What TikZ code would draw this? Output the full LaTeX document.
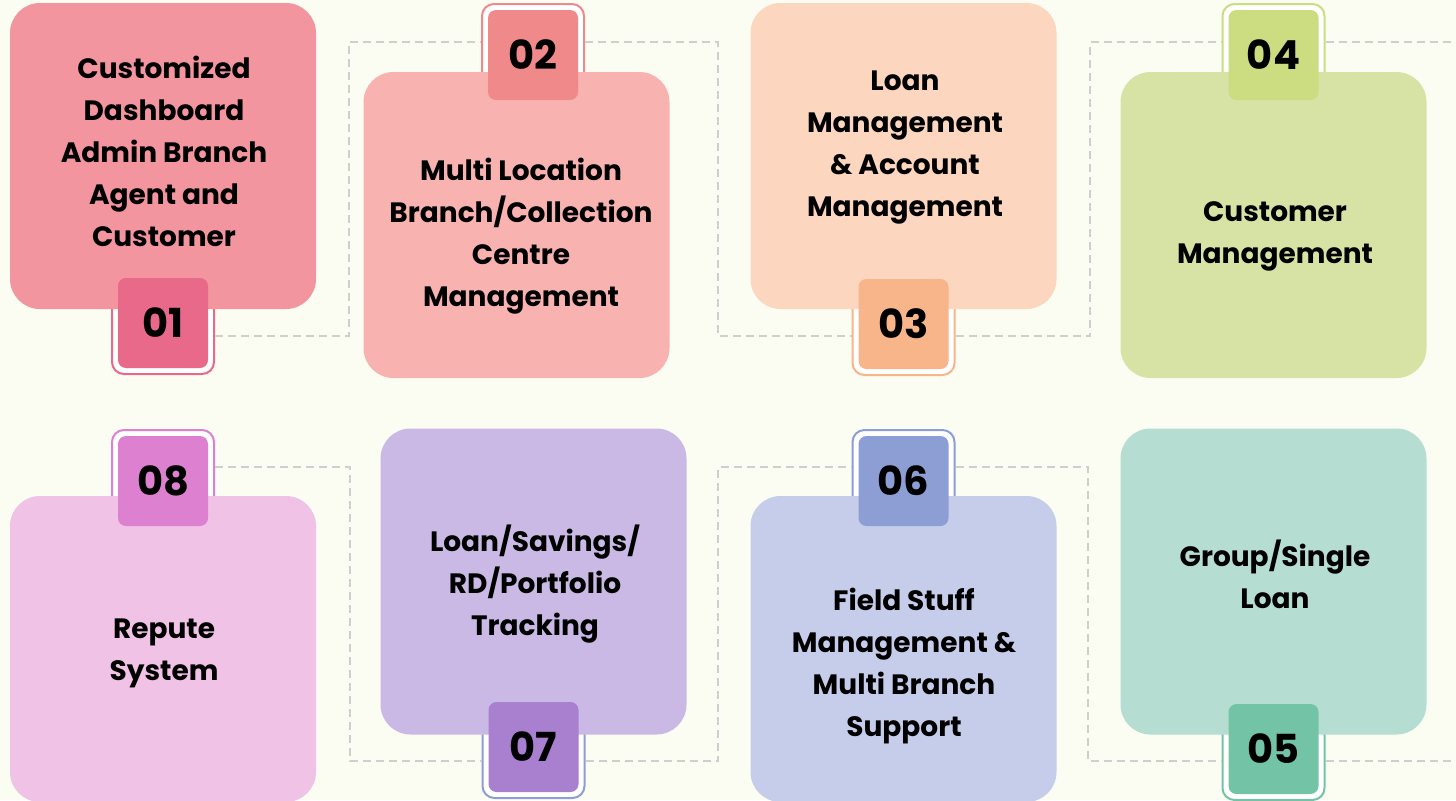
\documentclass[tikz,border=0pt]{standalone}
\usepackage{fontspec}
\setmainfont{Poppins}
\usetikzlibrary{positioning}

\definecolor{bg}{HTML}{FBFDF3}
\definecolor{linkgray}{HTML}{CFCFCF}
\definecolor{cardA}{HTML}{F2959F}
\definecolor{tagA}{HTML}{E8698A}
\definecolor{cardB}{HTML}{F8B3B1}
\definecolor{tagB}{HTML}{F08A8A}
\definecolor{cardC}{HTML}{FCD6BF}
\definecolor{tagC}{HTML}{F8B58A}
\definecolor{cardD}{HTML}{D6E3A5}
\definecolor{tagD}{HTML}{CCDC80}
\definecolor{cardE}{HTML}{B6DDD1}
\definecolor{tagE}{HTML}{73C4A6}
\definecolor{cardF}{HTML}{C5CDEA}
\definecolor{tagF}{HTML}{8C9ED4}
\definecolor{cardG}{HTML}{CAB9E5}
\definecolor{tagG}{HTML}{A97FD0}
\definecolor{cardH}{HTML}{F0C2E6}
\definecolor{tagH}{HTML}{DD80CF}

\tikzset{
  card/.style={rounded corners=15pt, minimum width=153pt, minimum height=153pt, inner sep=0pt},
  tagbox/.style={rounded corners=4pt, minimum size=45pt, inner sep=0pt, font=\fontsize{20}{20}\selectfont\bfseries},
  ring/.style={draw=#1, line width=1pt, fill=white, rounded corners=6pt, minimum size=51pt, inner sep=0pt},
  txt/.style={align=center, font=\fontsize{14}{21}\selectfont\bfseries},
  link/.style={draw=linkgray, line width=0.75pt, dash pattern=on 4pt off 2.5pt}
}

\begin{document}
\begin{tikzpicture}[x=0.5pt, y=-0.5pt]

\fill[bg] (0,0) rectangle (1456,800);
\useasboundingbox (0,0) rectangle (1456,800);

\node[ring=tagA] (ring1) at (163,323) {};
\node[ring=tagB] (ring2) at (533,55) {};
\node[ring=tagC] (ring3) at (903.5,324) {};
\node[ring=tagD] (ring4) at (1273.5,55) {};
\node[ring=tagE] (ring5) at (1273.5,749) {};
\node[ring=tagF] (ring6) at (903.5,481) {};
\node[ring=tagF] (ring7) at (533.5,747) {};
\node[ring=tagH] (ring8) at (163,481) {};

\coordinate (k1) at (349,336);
\coordinate (k2) at (349,42);
\coordinate (k3) at (718,42);
\coordinate (k4) at (718,336);
\coordinate (k5) at (1090,336);
\coordinate (k6) at (1090,42);
\coordinate (k7) at (1456,42);
\draw[link] (ring1.east |- k1) -- (k1) -- (k2) -- (ring2.west |- k2);
\draw[link] (ring2.east |- k3) -- (k3) -- (k4) -- (ring3.west |- k4);
\draw[link] (ring3.east |- k5) -- (k5) -- (k6) -- (ring4.west |- k6);
\draw[link] (ring4.east |- k7) -- (k7);

\coordinate (b1) at (350,467);
\coordinate (b2) at (350,761);
\coordinate (b3) at (718,761);
\coordinate (b4) at (718,467);
\coordinate (b5) at (1088,467);
\coordinate (b6) at (1088,761);
\coordinate (b7) at (1456,761);
\draw[link] (ring8.east |- b1) -- (b1) -- (b2) -- (ring7.west |- b2);
\draw[link] (ring7.east |- b3) -- (b3) -- (b4) -- (ring6.west |- b4);
\draw[link] (ring6.east |- b5) -- (b5) -- (b6) -- (ring5.west |- b6);
\draw[link] (ring5.east |- b7) -- (b7);

\node[card, fill=cardA] (card1) at (163,156) {};
\node[card, fill=cardB] (card2) at (516.5,225) {};
\node[card, fill=cardC] (card3) at (903.5,156) {};
\node[card, fill=cardD] (card4) at (1273.5,225) {};
\node[card, fill=cardE] (card5) at (1273.5,581.5) {};
\node[card, fill=cardF] (card6) at (903.5,649) {};
\node[card, fill=cardG] (card7) at (533.5,581.5) {};
\node[card, fill=cardH] (card8) at (163,649) {};

\node[tagbox, fill=tagA] (tag1) at (ring1) {01};
\node[tagbox, fill=tagB] (tag2) at (ring2) {02};
\node[tagbox, fill=tagC] (tag3) at (ring3) {03};
\node[tagbox, fill=tagD] (tag4) at (ring4) {04};
\node[tagbox, fill=tagE] (tag5) at (ring5) {05};
\node[tagbox, fill=tagF] (tag6) at (ring6) {06};
\node[tagbox, fill=tagG] (tag7) at (ring7) {07};
\node[tagbox, fill=tagH] (tag8) at (ring8) {08};

\node[txt] (text1) at (164,151) {Customized\\Dashboard\\Admin Branch\\Agent and\\Customer};
\node[txt] (text2) at (521,236) {Multi Location\\Branch/Collection\\Centre\\Management};
\node[txt] (text3) at (905,148) {Loan\\Management\\\& Account\\Management};
\node[txt] (text4) at (1275,236) {Customer\\Management};
\node[txt] (text5) at (1275,574) {Group/Single\\Loan};
\node[txt] (text6) at (904,666) {Field Stuff\\Management \&\\Multi Branch\\Support};
\node[txt] (text7) at (535,584) {Loan/Savings/\\RD/Portfolio\\Tracking};
\node[txt] (text8) at (164,653) {Repute\\System};

\end{tikzpicture}
\end{document}
